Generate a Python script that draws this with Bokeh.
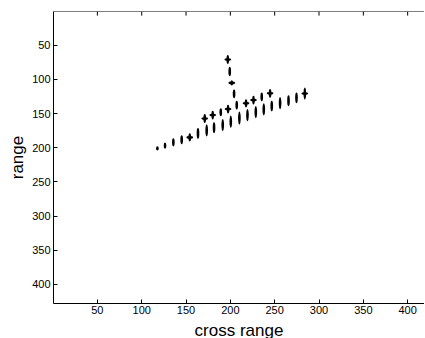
from bokeh.plotting import figure
from bokeh.models import Range1d, LinearAxis, FixedTicker, ColumnDataSource, Span
from bokeh.embed import file_html
from bokeh.resources import INLINE

# ---- data ----
lower_x = [117.7, 126.3, 135.7, 145.1, 154.2, 163.5, 173.3, 181.6, 191.4, 200.5,
           210.2, 219.3, 228.7, 237.7, 246.7, 256.1, 265.6, 274.6, 284.0]
lower_y = [200.9, 196.9, 192.1, 188.2, 184.8, 179.0, 174.6, 170.7, 166.7, 161.9,
           156.5, 152.1, 147.7, 143.9, 139.0, 134.6, 131.2, 126.9, 120.6]
lower_spread = [6, 9, 12, 13, 12, 16, 18, 16, 18, 18, 19, 18, 18, 18, 16, 18, 16, 16, 18]
lower_cross = [0, 0, 0, 0, 1, 0, 0, 0, 0, 0, 0, 0, 0, 0, 0, 0, 0, 0, 1]

upper_x = [171.1, 180.1, 189.2, 197.4, 207.2, 217.7, 226.1, 235.4, 244.8]
upper_y = [157.1, 152.1, 148.0, 143.4, 137.5, 134.9, 130.2, 125.4, 120.3]
upper_spread = [13, 13, 12, 13, 13, 12, 13, 13, 13]
upper_cross = [1, 1, 0, 1, 0, 1, 1, 0, 1]

vert_x = [197.1, 199.3, 201.6, 204.2]
vert_y = [70.7, 88.2, 105.0, 121.0]
vert_spread = [13, 14, 8, 13]
vert_cross = [1, 0, 1, 0]

ticks = [50, 100, 150, 200, 250, 300, 350, 400]

all_x = lower_x + upper_x + vert_x
all_y = lower_y + upper_y + vert_y
all_spread = lower_spread + upper_spread + vert_spread
all_cross = lower_cross + upper_cross + vert_cross

FONT = "Liberation Sans"
Y_TOP = 0.5

p = figure(frame_width=371, frame_height=292,
           x_range=Range1d(0.5, 419), y_range=Range1d(428, Y_TOP),
           output_backend="svg", toolbar_location=None,
           min_border_left=53, min_border_right=0, min_border_top=11,
           min_border_bottom=30, x_axis_location=None, y_axis_location=None)
p.outline_line_color = None
p.grid.visible = False
p.background_fill_color = "white"
p.border_fill_color = "white"

def style(ax):
    ax.ticker = FixedTicker(ticks=ticks)
    ax.axis_line_color = "black"
    ax.axis_line_width = 1
    ax.major_tick_in = 4
    ax.major_tick_out = 0
    ax.minor_tick_line_color = None
    ax.major_tick_line_color = "black"
    ax.major_label_text_font = FONT
    ax.major_label_text_font_size = "11px"
    ax.major_label_text_color = "black"
    ax.axis_label_text_font = FONT
    ax.axis_label_text_font_style = "normal"
    ax.axis_label_text_font_size = "17px"
    ax.axis_label_text_color = "black"

xb = LinearAxis(axis_label="cross range")
style(xb)
xb.major_label_standoff = 2
xb.axis_label_standoff = 4
p.add_layout(xb, "below")

yl = LinearAxis(axis_label="range")
style(yl)
yl.major_label_standoff = 3
yl.axis_label_standoff = 2
p.add_layout(yl, "left")

# top frame edge with inward ticks
p.add_layout(Span(location=Y_TOP, dimension="width", line_color="black", line_width=1))
p.segment(x0=ticks, y0=[Y_TOP] * len(ticks), x1=ticks, y1=[Y_TOP + 6] * len(ticks),
          line_color="black", line_width=1)

src = ColumnDataSource(dict(x=all_x, y=all_y, h=all_spread))
p.ellipse(x="x", y="y", width=3.0, height="h", source=src,
          fill_color="black", line_color=None)

cx = [x for x, c in zip(all_x, all_cross) if c]
cy = [y for y, c in zip(all_y, all_cross) if c]
p.ellipse(x=cx, y=cy, width=7.5, height=3.8,
          fill_color="black", line_color=None)

open("out.html", "w").write(file_html(p, INLINE))
